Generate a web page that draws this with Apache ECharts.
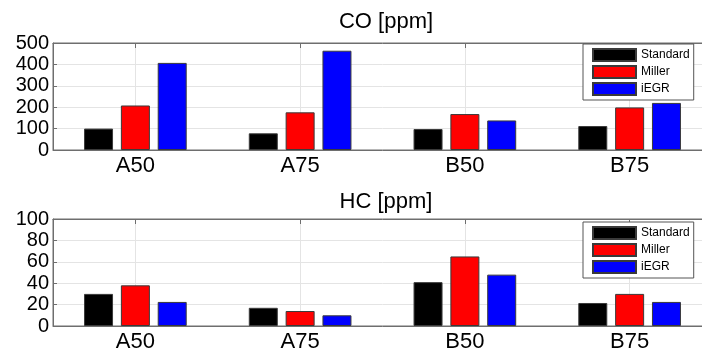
<!DOCTYPE html>
<html>
<head>
<meta charset="utf-8">
<title>CO and HC emissions</title>
<script src="https://cdn.jsdelivr.net/npm/echarts@6/dist/echarts.min.js"></script>
<style>
  html, body { margin: 0; padding: 0; background: #fff; overflow: hidden; }
  /* the plot frame runs a little past the right edge of the page */
  #chart { width: 716px; height: 354px; }
</style>
</head>
<body>
<div id="chart"></div>
<script>
// Operating points
const categories = ['A50', 'A75', 'B50', 'B75'];
const seriesNames = ['Standard', 'Miller', 'iEGR'];

// CO emissions [ppm]
const coStandard = [100, 78, 98, 112];
const coMiller = [208, 176, 168, 199];
const coIEGR = [407, 464, 138, 220];

// HC emissions [ppm]
const hcStandard = [30, 17, 41, 21.5];
const hcMiller = [38, 14, 65, 30];
const hcIEGR = [22.5, 10, 48, 22.5];

// Axis ranges
const coAxis = { min: 0, max: 500, interval: 100 };
const hcAxis = { min: 0, max: 100, interval: 20 };

const colors = ['#000000', '#ff0000', '#0000ff'];
const FONT = '"Liberation Sans", Arial, sans-serif';
const FRAME = '#6e6e6e';
const GRIDLINE = '#e4e4e4';

function bottomAxis(gridIndex) {
  return {
    type: 'category', gridIndex, data: categories, position: 'bottom',
    axisLine: { show: true, lineStyle: { color: FRAME, width: 1 } },
    axisTick: { show: true, inside: true, alignWithLabel: true, length: 5, lineStyle: { color: FRAME } },
    axisLabel: { color: '#000', fontFamily: FONT, fontSize: 22, margin: 5 },
    splitLine: { show: true, alignWithLabel: true, lineStyle: { color: GRIDLINE, width: 1 } }
  };
}
function topAxis(gridIndex) {
  return {
    type: 'category', gridIndex, data: categories, position: 'top',
    axisLine: { show: true, lineStyle: { color: FRAME, width: 1 } },
    axisTick: { show: true, inside: true, alignWithLabel: true, length: 5, lineStyle: { color: FRAME } },
    axisLabel: { show: false },
    splitLine: { show: false }
  };
}
function valueAxis(gridIndex, range) {
  return {
    type: 'value', gridIndex, min: range.min, max: range.max, interval: range.interval,
    axisLine: { show: true, lineStyle: { color: FRAME, width: 1 } },
    axisTick: { show: true, inside: true, length: 4, lineStyle: { color: FRAME } },
    axisLabel: { color: '#000', fontFamily: FONT, fontSize: 20, margin: 4 },
    splitLine: { show: true, lineStyle: { color: GRIDLINE, width: 1 } }
  };
}
function bars(name, values, color, xAxisIndex, yAxisIndex) {
  return {
    name, type: 'bar', data: values, xAxisIndex, yAxisIndex,
    barWidth: 29, barGap: '27%',
    itemStyle: { color, borderColor: '#3a3a3a', borderWidth: 1 },
    emphasis: { disabled: true },
    animation: false
  };
}
function legendBox(top) {
  return {
    data: seriesNames, orient: 'vertical', left: 583, top,
    icon: 'rect', itemWidth: 43, itemHeight: 12, itemGap: 3,
    padding: [4, 4, 4, 9],
    borderColor: '#555', borderWidth: 1, backgroundColor: '#fff',
    textStyle: { color: '#000', fontFamily: FONT, fontSize: 12 }
  };
}

const chart = echarts.init(document.getElementById('chart'), null, { renderer: 'canvas' });
chart.setOption({
  backgroundColor: '#ffffff',
  animation: false,
  color: colors,
  title: [
    { text: 'CO [ppm]', left: 381, top: 6, textAlign: 'center',
      textStyle: { color: '#000', fontFamily: FONT, fontSize: 22, fontWeight: 'normal' } },
    { text: 'HC [ppm]', left: 381, top: 186, textAlign: 'center',
      textStyle: { color: '#000', fontFamily: FONT, fontSize: 22, fontWeight: 'normal' } }
  ],
  legend: [legendBox(44), legendBox(222)],
  grid: [
    { left: 53, top: 43, width: 659, height: 107, show: true, borderColor: FRAME, borderWidth: 1, backgroundColor: '#fff', containLabel: false },
    { left: 53, top: 219, width: 659, height: 107, show: true, borderColor: FRAME, borderWidth: 1, backgroundColor: '#fff', containLabel: false }
  ],
  xAxis: [bottomAxis(0), topAxis(0), bottomAxis(1), topAxis(1)],
  yAxis: [valueAxis(0, coAxis), valueAxis(1, hcAxis)],
  series: [
    bars('Standard', coStandard, colors[0], 0, 0),
    bars('Miller', coMiller, colors[1], 0, 0),
    bars('iEGR', coIEGR, colors[2], 0, 0),
    bars('Standard', hcStandard, colors[0], 2, 1),
    bars('Miller', hcMiller, colors[1], 2, 1),
    bars('iEGR', hcIEGR, colors[2], 2, 1)
  ]
});
</script>
</body>
</html>
